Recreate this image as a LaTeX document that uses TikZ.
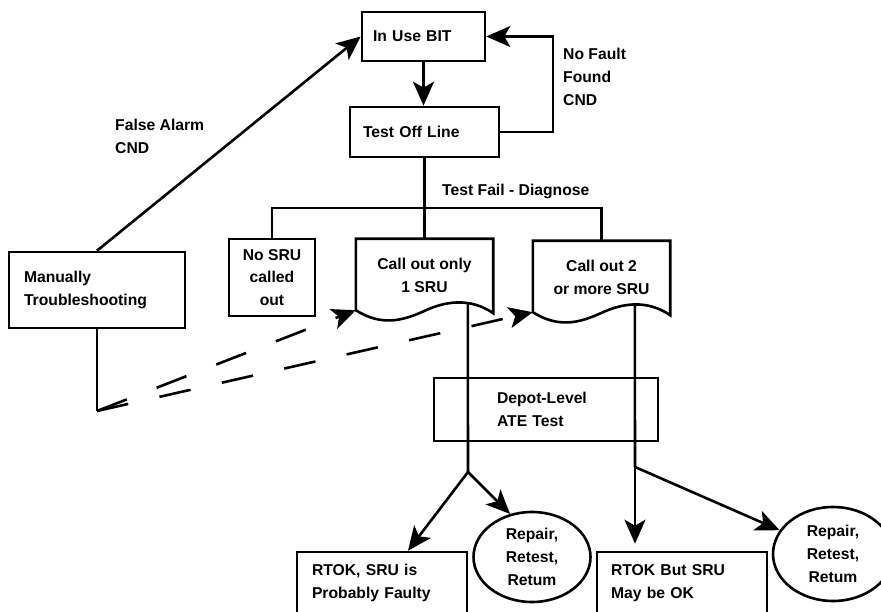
\documentclass[tikz,border=0pt]{standalone}
\usepackage{fontspec}
\setmainfont{Liberation Sans}
\usetikzlibrary{arrows.meta,shapes.geometric}
\newcommand{\docoutline}[1]{%
  \draw[base] ([shift={(0,-2)}]#1.south west) |- (#1.north east) -- ([shift={(0,1)}]#1.south east)
    .. controls ([shift={(114,-15)}]#1.south west) and ([shift={(89,-11)}]#1.south west) .. ([shift={(68,-1)}]#1.south west)
    .. controls ([shift={(44,10)}]#1.south west) and ([shift={(24,13)}]#1.south west) .. ([shift={(0,-2)}]#1.south west) -- cycle;}
\tikzset{
  txtfont/.style={font=\bfseries\fontsize{15.7pt}{22.8pt}\selectfont},
  base/.style={line width=2.6pt},
  arr/.style={base, -{Stealth[length=24pt,width=21pt,inset=6pt]}},
  dsh/.style={arr, dash pattern=on 32pt off 32pt},
  lbl/.style={txtfont, inner sep=0pt, align=left, anchor=west},
  box/.style={draw, line width=2.6pt, txtfont, align=left, inner ysep=0pt},
  cbox/.style={draw, line width=2.6pt, txtfont, align=center, inner sep=0pt},
  doc/.style={txtfont, align=center, inner sep=0pt, minimum width=137pt, minimum height=73pt},
  circ/.style={draw, ellipse, line width=2.6pt, txtfont, align=center, inner sep=0pt}
}
\begin{document}
\begin{tikzpicture}[x=1pt,y=-1pt]
\fill[white] (0,0) rectangle (881,612);
\clip (0,0) rectangle (881,612);

% nodes
\node[box, text width=101pt, inner xsep=11pt, minimum height=49pt] (iub) at (423.5,36.5) {In Use BIT};
\node[box, text width=123pt, inner xsep=13pt, minimum height=50pt] (tol) at (424.5,132) {Test Off Line};
\node[box, text width=146pt, inner xsep=15pt, minimum height=76pt] (mt) at (97,290) {Manually\\Troubleshooting};
\node[cbox, minimum width=86pt, minimum height=77pt] (nosru) at (272,277.5) {No SRU\\called\\out};
\node[doc] (d1) at (424.5,275.5) {Call out only\\1 SRU};
\node[doc] (d2) at (601.5,277.5) {Call out 2\\or more SRU};
\node[box, text width=98pt, inner xsep=63pt, minimum height=63pt] (dep) at (546,409.5) {Depot-Level\\ATE Test};
\node[box, text width=140pt, inner xsep=15pt, minimum height=62pt] (rt1) at (382,583) {RTOK, SRU is\\Probably Faulty};
\node[box, text width=142pt, inner xsep=14pt, minimum height=62pt] (rt2) at (682,583) {RTOK But SRU\\May be OK};
\node[circ, minimum width=117pt, minimum height=90pt] (c1) at (532,557) {Repair,\\Retest,\\Retum};
\node[circ, minimum width=120pt, minimum height=94pt] (c2) at (833,554) {Repair,\\Retest,\\Retum};

% labels
\node[lbl] (fa) at (115,136.5) {False Alarm\\CND};
\node[lbl] (nff) at (563,77) {No Fault\\Found\\CND};
\node[lbl] (tfd) at (442,191) {Test Fail - Diagnose};

% document outlines
\docoutline{d1}
\docoutline{d2}

% coordinates
\coordinate (bus) at (424,208);
\coordinate (fbc) at (553,80);
\coordinate (mtend) at (97,411);
\coordinate (j1) at (468,472);
\coordinate (j2) at (635,467);
\coordinate (d1w) at ([shift={(112,-9)}]d1.south west);
\coordinate (d2w) at ([shift={(102,-10)}]d2.south west);

% connectors
\draw[arr] (iub.south) -- (iub.south |- tol.north);
\draw[arr] (tol.east) -| (fbc) |- (iub.east);
\draw[arr] (mt.north) -- (iub.west);
\draw[base] (tol.south) -- (d1.north);
\draw[base] (nosru.north) |- (bus) -| (d2.north);
\draw[base] (mt.south) -- (mtend);
\draw[dsh] (mtend) -- ([shift={(0,-2)}]d1.south west);
\draw[dsh] (mtend) -- ([shift={(0,-2)}]d2.south west);
\draw[base] (d1w) -- (j1);
\draw[arr] (j1) -- ([shift={(26,0)}]rt1.north);
\draw[arr] (j1) -- (c1.117);
\draw[base] (d2w) -- (j2);
\draw[arr, shorten >=7pt] (j2) -- (j2 |- rt2.north);
\draw[arr] (j2) -- (c2.156);
\end{tikzpicture}
\end{document}
